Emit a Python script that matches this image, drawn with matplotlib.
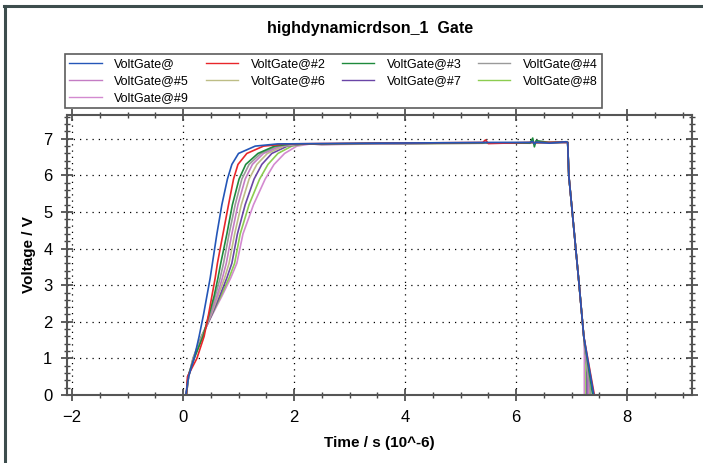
import numpy as np
import matplotlib
matplotlib.use('Agg')
import matplotlib.pyplot as plt
from matplotlib.lines import Line2D
from matplotlib.ticker import MultipleLocator

plt.rcParams['font.family'] = ['Liberation Sans', 'DejaVu Sans']

# === Data ===
labels = ['VoltGate@', 'VoltGate@#2', 'VoltGate@#3', 'VoltGate@#4', 'VoltGate@#5',
          'VoltGate@#6', 'VoltGate@#7', 'VoltGate@#8', 'VoltGate@#9']
colors = ['#2456b8', '#e8262a', '#1e8a3c', '#9a9a9a', '#c47cc4',
          '#bdbd86', '#6a45a6', '#8ccc50', '#d38ad0']

# rising edge: voltage levels and the time (us) each curve reaches them
rise_v = [0, 0.5, 1.0, 1.6, 2.2, 2.7, 3.2, 3.6, 4.4, 5.2, 5.9, 6.3, 6.6, 6.8, 6.86]
rise_t = [
    [0.05, 0.10, 0.20, 0.29, 0.37, 0.43, 0.49, 0.53, 0.61, 0.70, 0.80, 0.88, 1.00, 1.30, 1.70],
    [0.06, 0.08, 0.25, 0.38, 0.46, 0.52, 0.58, 0.62, 0.72, 0.82, 0.91, 0.99, 1.15, 1.45, 1.85],
    [0.06, 0.09, 0.20, 0.36, 0.47, 0.56, 0.63, 0.68, 0.79, 0.89, 1.01, 1.13, 1.35, 1.65, 1.95],
    [0.06, 0.09, 0.20, 0.35, 0.49, 0.58, 0.67, 0.73, 0.83, 0.94, 1.06, 1.19, 1.40, 1.70, 2.00],
    [0.06, 0.09, 0.19, 0.35, 0.50, 0.61, 0.71, 0.78, 0.88, 0.99, 1.12, 1.25, 1.45, 1.76, 2.05],
    [0.06, 0.10, 0.19, 0.34, 0.51, 0.63, 0.75, 0.83, 0.93, 1.05, 1.19, 1.33, 1.52, 1.82, 2.10],
    [0.06, 0.10, 0.19, 0.34, 0.52, 0.66, 0.79, 0.88, 0.98, 1.12, 1.28, 1.42, 1.60, 1.88, 2.15],
    [0.06, 0.10, 0.18, 0.33, 0.52, 0.68, 0.83, 0.93, 1.03, 1.19, 1.38, 1.53, 1.71, 1.96, 2.20],
    [0.06, 0.10, 0.18, 0.33, 0.53, 0.70, 0.86, 0.97, 1.08, 1.27, 1.48, 1.64, 1.83, 2.05, 2.30],
]

# flat top (with a few visible glitches)
top_t = [2.5, 3.5, 4.5, 5.4, 5.45, 5.5, 6.25, 6.3, 6.33, 6.36, 6.6, 6.9]
top_v = [
    [6.87, 6.88, 6.89, 6.90, 6.90, 6.90, 6.90, 6.93, 6.86, 6.91, 6.88, 6.92],
    [6.87, 6.88, 6.89, 6.90, 6.97, 6.87, 6.90, 6.91, 6.89, 6.90, 6.90, 6.91],
    [6.86, 6.88, 6.88, 6.89, 6.90, 6.89, 6.88, 7.02, 6.78, 6.95, 6.90, 6.91],
    [6.86, 6.87, 6.88, 6.89, 6.89, 6.89, 6.90, 6.90, 6.90, 6.90, 6.90, 6.91],
    [6.85, 6.87, 6.88, 6.89, 6.89, 6.89, 6.89, 6.90, 6.89, 6.90, 6.90, 6.90],
    [6.85, 6.87, 6.88, 6.89, 6.89, 6.89, 6.89, 6.90, 6.89, 6.90, 6.89, 6.90],
    [6.85, 6.86, 6.88, 6.88, 6.89, 6.89, 6.89, 6.89, 6.89, 6.89, 6.89, 6.90],
    [6.85, 6.86, 6.87, 6.88, 6.88, 6.88, 6.89, 6.89, 6.89, 6.89, 6.89, 6.90],
    [6.84, 6.86, 6.87, 6.88, 6.88, 6.88, 6.88, 6.89, 6.88, 6.89, 6.89, 6.89],
]

# falling edge: shared slope, each trace cut off at its own time
fall_t = [6.93, 6.95, 7.05, 7.14, 7.22]
fall_v = [6.9, 6.0, 4.4, 2.95, 1.6]
tail_t = [7.40, 7.41, 7.38, 7.34, 7.30, 7.32, 7.28, 7.26, 7.23]
tail_v = [0.0, 0.0, 0.0, 0.1, 0.5, 0.25, 0.75, 1.0, 1.2]

# === Figure ===
fig = plt.figure(figsize=(7.03, 4.63), dpi=100)
ax = fig.add_axes([0.0953, 0.1469, 0.8891, 0.6047])

lines = {}
for i in reversed(range(len(labels))):
    t = [0.0] + rise_t[i] + top_t + fall_t + [tail_t[i], tail_t[i]]
    v = [0.0] + rise_v + top_v[i] + fall_v + [tail_v[i], -0.5]
    lines[i], = ax.plot(t, v, color=colors[i], lw=1.2, label=labels[i])

ax.set_xlim(-2.09, 9.17)
ax.set_ylim(0, 7.65)
ax.xaxis.set_major_locator(MultipleLocator(2))
ax.xaxis.set_minor_locator(MultipleLocator(0.5))
ax.yaxis.set_major_locator(MultipleLocator(1))
ax.yaxis.set_minor_locator(MultipleLocator(0.2))
ax.tick_params(which='both', direction='inout', top=True, right=True,
               color='#444444', labelsize=12, pad=6)
ax.tick_params(which='major', length=9, width=1.2)
ax.tick_params(which='minor', length=5, width=1.0)
for s in ax.spines.values():
    s.set_color('#555555')
    s.set_linewidth(1.5)
ax.grid(True, which='major', color='black', linestyle=(0, (1, 4)), lw=0.9)

ax.set_xlabel('Time / s (10^-6)', fontsize=11, fontweight='bold', labelpad=8)
ax.set_ylabel('Voltage / V', fontsize=11, fontweight='bold', labelpad=5)
fig.text(0.527, 0.938, 'highdynamicrdson_1  Gate', ha='center', va='center',
         fontsize=11.5, fontweight='bold')

# legend filled row by row (matplotlib fills columns, so reorder)
order = [0, 4, 8, 1, 5, 2, 6, 3, 7]
leg = fig.legend([lines[i] for i in order], [labels[i] for i in order], ncol=4,
                 loc='upper left', bbox_to_anchor=(0.0925, 0.884), fontsize=9,
                 frameon=True, fancybox=False, borderpad=0.35, labelspacing=0.4,
                 handlelength=2.6, columnspacing=1.3, handletextpad=1.0,
                 borderaxespad=0)
leg.get_frame().set_edgecolor('#333333')
leg.get_frame().set_linewidth(1.2)
for h in leg.get_lines():
    h.set_linewidth(1.0)

# outer frame (left and top edges)
fig.add_artist(Line2D([0.007, 0.007], [0.0, 0.987], color='#3d4d4d', lw=2.2,
                      transform=fig.transFigure))
fig.add_artist(Line2D([0.006, 1.0], [0.987, 0.987], color='#3d4d4d', lw=2.2,
                      transform=fig.transFigure))

plt.savefig('out.png', dpi=100)
